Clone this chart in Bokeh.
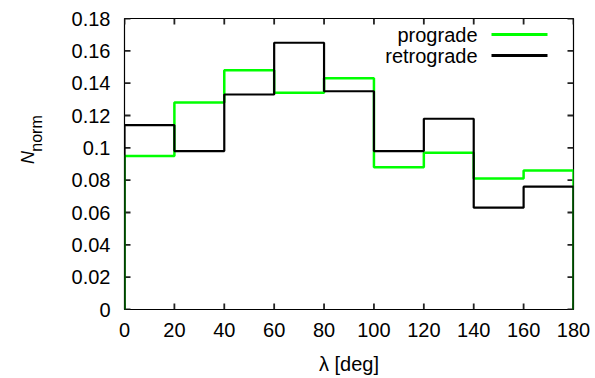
import numpy as np
from bokeh.plotting import figure
from bokeh.layouts import row
from bokeh.models import Range1d, FixedTicker, Label, BoxAnnotation
from bokeh.core.properties import value
from bokeh.embed import file_html
from bokeh.resources import INLINE

# Histogram of the angle lambda, 20-degree bins
bin_edges = [0, 20, 40, 60, 80, 100, 120, 140, 160, 180]
prograde = [0.095, 0.128, 0.148, 0.134, 0.143, 0.088, 0.097, 0.081, 0.086]
retrograde = [0.114, 0.098, 0.133, 0.165, 0.135, 0.098, 0.118, 0.063, 0.076]

x_ticks = [0, 20, 40, 60, 80, 100, 120, 140, 160, 180]
y_ticks = [0, 0.02, 0.04, 0.06, 0.08, 0.1, 0.12, 0.14, 0.16, 0.18]
y_tick_labels = ["0", "0.02", "0.04", "0.06", "0.08", "0.1", "0.12", "0.14", "0.16", "0.18"]

FONT = "Liberation Sans"
FS = "20px"

# page geometry: a narrow strip for the y label next to the main plot
LABEL_W, H = 50, 378
PLOT_W = 595 - LABEL_W
BORDER_L, BORDER_R, BORDER_T, BORDER_B = 124 - LABEL_W, 22, 18, 69
FRAME_W = PLOT_W - BORDER_L - BORDER_R
FRAME_H = H - BORDER_T - BORDER_B
TICK_PX = 6


def outline(edges, vals):
    """Step outline of a histogram, closed down to zero at both ends."""
    xs = [edges[0]]
    ys = [0.0]
    for i, v in enumerate(vals):
        xs += [edges[i], edges[i + 1]]
        ys += [v, v]
    xs.append(edges[-1])
    ys.append(0.0)
    return np.array(xs), np.array(ys)


x0, x1 = x_ticks[0], x_ticks[-1]
y0, y1 = y_ticks[0], y_ticks[-1]

p = figure(width=PLOT_W, height=H, output_backend="svg", toolbar_location=None,
           x_range=Range1d(x0, x1), y_range=Range1d(y0, y1),
           min_border_left=BORDER_L, min_border_right=BORDER_R,
           min_border_top=BORDER_T, min_border_bottom=BORDER_B)
p.background_fill_color = "white"
p.border_fill_color = "white"
p.outline_line_color = "black"
p.outline_line_width = 1.2
p.grid.visible = False

# inward tick marks on all four sides, as one multi-line of short strokes
dx = TICK_PX * (x1 - x0) / FRAME_W
dy = TICK_PX * (y1 - y0) / FRAME_H
tick_xs, tick_ys = [], []
for t in x_ticks:
    tick_xs += [[t, t], [t, t]]
    tick_ys += [[y0, y0 + dy], [y1, y1 - dy]]
for t in y_ticks:
    tick_xs += [[x0, x0 + dx], [x1, x1 - dx]]
    tick_ys += [[t, t], [t, t]]
p.multi_line(tick_xs, tick_ys, line_color="#222222", line_width=1.8)

gx, gy = outline(bin_edges, prograde)
bx, by = outline(bin_edges, retrograde)
p.line(gx, gy, line_color="#00ff00", line_width=2.5)
p.line(bx, by, line_color="black", line_width=2.2)


def style_axis(ax, ticks):
    ax.ticker = FixedTicker(ticks=ticks)
    ax.axis_line_color = None
    ax.major_tick_in = 0
    ax.major_tick_out = 0
    ax.minor_tick_in = 0
    ax.minor_tick_out = 0
    ax.major_label_text_font = FONT
    ax.major_label_text_font_size = FS
    ax.major_label_text_color = "black"


xa = p.xaxis[0]
style_axis(xa, x_ticks)
xa.major_label_standoff = 13
xa.axis_label = "λ [deg]"
xa.axis_label_text_font = FONT
xa.axis_label_text_font_size = FS
xa.axis_label_text_font_style = "normal"
xa.axis_label_text_color = "black"
xa.axis_label_standoff = 13

ya = p.yaxis[0]
style_axis(ya, y_ticks)
ya.major_label_standoff = 14
ya.major_label_overrides = {t: s for t, s in zip(y_ticks, y_tick_labels)}

# legend, text on the left and sample line on the right (frame-relative pixels)
legend_rows = [("prograde", "#00ff00", 275), ("retrograde", "black", 254)]
for name, color, yc in legend_rows:
    p.add_layout(Label(x=353, y=yc, x_units="screen", y_units="screen",
                       text=name, text_align="right", text_baseline="middle",
                       text_font=FONT, text_font_size=FS, text_color="black"))
    p.add_layout(BoxAnnotation(left=367, right=423, top=yc + 1.5, bottom=yc - 1.5,
                               left_units="screen", right_units="screen",
                               top_units="screen", bottom_units="screen",
                               fill_color=color, fill_alpha=1, line_color=None))

# y label N_norm, written bottom to top, in a strip of pixel coordinates
lab = figure(width=LABEL_W, height=H, output_backend="svg", toolbar_location=None,
             x_range=Range1d(0, LABEL_W), y_range=Range1d(0, H),
             min_border=0, outline_line_color=None)
lab.axis.visible = False
lab.grid.visible = False
lab.background_fill_color = "white"
lab.border_fill_color = "white"
lab.text(x=[27], y=[H - 189], text=["N"], angle=np.pi / 2,
         text_font=value(FONT), text_font_size="18px", text_font_style="italic",
         text_color="black", text_align="left", text_baseline="alphabetic")
lab.text(x=[36], y=[H - 173], text=["norm"], angle=np.pi / 2,
         text_font=value(FONT), text_font_size="16px",
         text_color="black", text_align="left", text_baseline="alphabetic")

layout = row(lab, p, spacing=0)
open("out.html", "w").write(file_html(layout, INLINE))
